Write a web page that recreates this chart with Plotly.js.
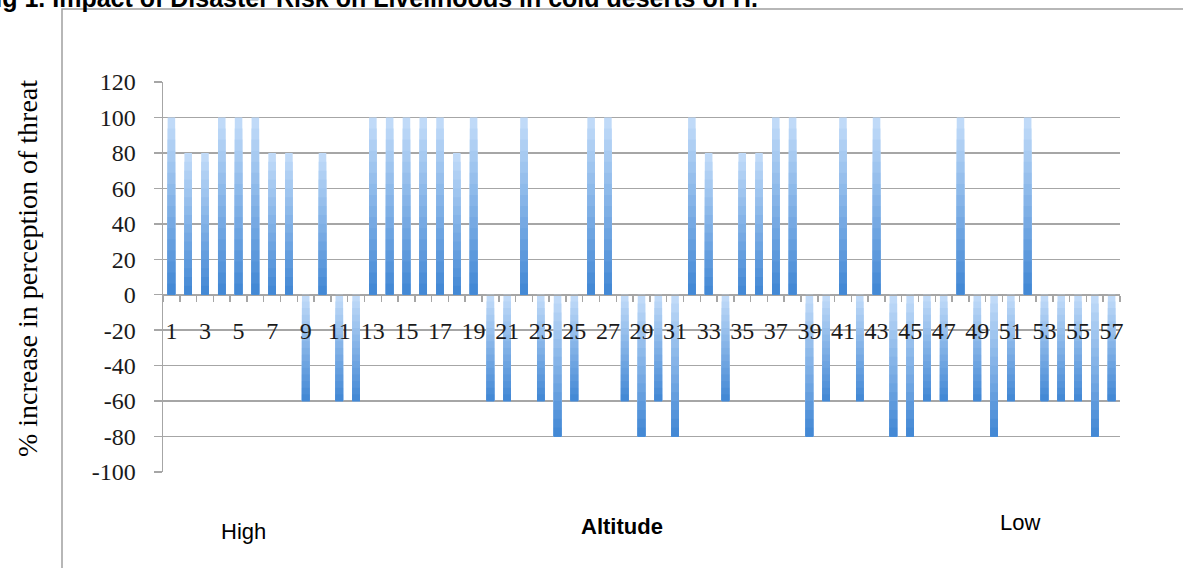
<!DOCTYPE html>
<html>
<head>
<meta charset="utf-8">
<script src="https://cdn.plot.ly/plotly-3.0.1.min.js"></script>
<style>
  html, body { margin: 0; padding: 0; background: #ffffff; }
  #chart { width: 1183px; height: 568px; }
</style>
</head>
<body>
<div id="chart"></div>
<script>
// ---- Data ----
const villages = Array.from({length: 57}, (_, i) => i + 1);
const threatChange = [
  100, 80, 80, 100, 100, 100, 80, 80, -60, 80,
  -60, -60, 100, 100, 100, 100, 100, 80, 100, -60,
  -60, 100, -60, -80, -60, 100, 100, -60, -80, -60,
  -80, 100, 80, -60, 80, 80, 100, 100, -80, -60,
  100, -60, 100, -80, -80, -60, -60, 100, -60, -80,
  -60, 100, -60, -60, -60, -80, -60
];
const xTickLabels = villages.filter(v => v % 2 === 1);
const yTickValues = [-100, -80, -60, -40, -20, 0, 20, 40, 60, 80, 100, 120];

const titleText = 'Fig 1. Impact of Disaster Risk on Livelihoods in cold deserts of H.';
const yTitleText = '% increase in perception of threat';
const xTitleText = 'Altitude';
const highText = 'High';
const lowText = 'Low';

// ---- Geometry of the plot area (pixels) ----
const W = 1183, H = 568;
const L = 163, R = 1120, T = 82, B = 472;
const px = x => (x - L) / (R - L);
const py = y => (B - y) / (B - T);

// ---- Gradient bars: overlapping layers, light on top, dark toward the bottom ----
const N = 16;
const light = [196, 221, 249];
const dark = [64, 134, 212];
function mix(t) { // t=0 dark -> t=1 light
  const c = dark.map((d, i) => Math.round(d + (light[i] - d) * t));
  return 'rgb(' + c.join(',') + ')';
}
const traces = [];
for (let k = 0; k < N; k++) {
  const frac = (N - k) / N;            // portion of the bar covered by this layer (from the bottom)
  const bases = threatChange.map(v => Math.min(0, v));
  const heights = threatChange.map(v => Math.abs(v) * frac);
  traces.push({
    type: 'bar',
    x: villages,
    y: heights,
    base: bases,
    width: 0.45,
    marker: { color: mix(frac - 0.5 / N), line: { width: 0 } },
    hoverinfo: 'skip',
    showlegend: false
  });
}

const serif = 'Liberation Serif, Times New Roman, serif';
const sans = 'Liberation Sans, Arial, sans-serif';
const grid = '#a6a6a6';

const layout = {
  width: W, height: H,
  margin: { l: L, r: W - R, t: T, b: H - B, pad: 0 },
  paper_bgcolor: '#ffffff',
  plot_bgcolor: '#ffffff',
  barmode: 'overlay',
  showlegend: false,
  xaxis: {
    type: 'linear',
    range: [0.5, 57.5],
    anchor: 'free',
    position: 100 / 220,
    tickmode: 'array',
    tickvals: xTickLabels,
    ticktext: xTickLabels.map(String),
    ticks: '',
    ticklabelstandoff: 14,
    showgrid: false,
    zeroline: false,
    showline: true,
    linecolor: grid,
    linewidth: 1.5,
    tickfont: { family: serif, size: 24, color: '#1a1a1a' },
    minor: { tickmode: 'linear', tick0: 0.5, dtick: 1, ticks: 'outside', ticklen: 6, tickcolor: grid, tickwidth: 1.5, showgrid: false },
    fixedrange: true
  },
  yaxis: {
    range: [-100, 120],
    tickmode: 'array',
    tickvals: yTickValues,
    ticktext: yTickValues.map(String),
    ticks: 'outside',
    ticklen: 8,
    tickcolor: grid,
    tickwidth: 1.5,
    ticklabelstandoff: 13,
    showgrid: true,
    gridcolor: grid,
    gridwidth: 1.5,
    zeroline: false,
    showline: true,
    linecolor: grid,
    linewidth: 1.5,
    tickfont: { family: serif, size: 24, color: '#1a1a1a' },
    fixedrange: true
  },
  shapes: [
    { type: 'rect', xref: 'paper', yref: 'paper', layer: 'below',
      x0: px(62), x1: px(1200), y0: py(600), y1: py(9),
      line: { color: '#a0a0a0', width: 1.5 }, fillcolor: 'rgba(0,0,0,0)' }
  ],
  annotations: [
    { text: '<b>' + titleText + '</b>', xref: 'paper', yref: 'paper',
      x: px(-22), y: py(-2), xanchor: 'left', yanchor: 'middle', showarrow: false,
      font: { family: sans, size: 25, color: '#000000' } },
    { text: yTitleText, xref: 'paper', yref: 'paper', textangle: -90,
      x: px(27), y: py(269), xanchor: 'center', yanchor: 'middle', showarrow: false,
      font: { family: serif, size: 28, color: '#000000' } },
    { text: highText, xref: 'paper', yref: 'paper',
      x: px(243), y: py(531), xanchor: 'center', yanchor: 'middle', showarrow: false,
      font: { family: sans, size: 22, color: '#000000' } },
    { text: '<b>' + xTitleText + '</b>', xref: 'paper', yref: 'paper',
      x: px(622), y: py(526), xanchor: 'center', yanchor: 'middle', showarrow: false,
      font: { family: sans, size: 22, color: '#000000' } },
    { text: lowText, xref: 'paper', yref: 'paper',
      x: px(1020), y: py(522), xanchor: 'center', yanchor: 'middle', showarrow: false,
      font: { family: sans, size: 22, color: '#000000' } }
  ]
};

Plotly.newPlot('chart', traces, layout, { staticPlot: true, displayModeBar: false });
</script>
</body>
</html>
